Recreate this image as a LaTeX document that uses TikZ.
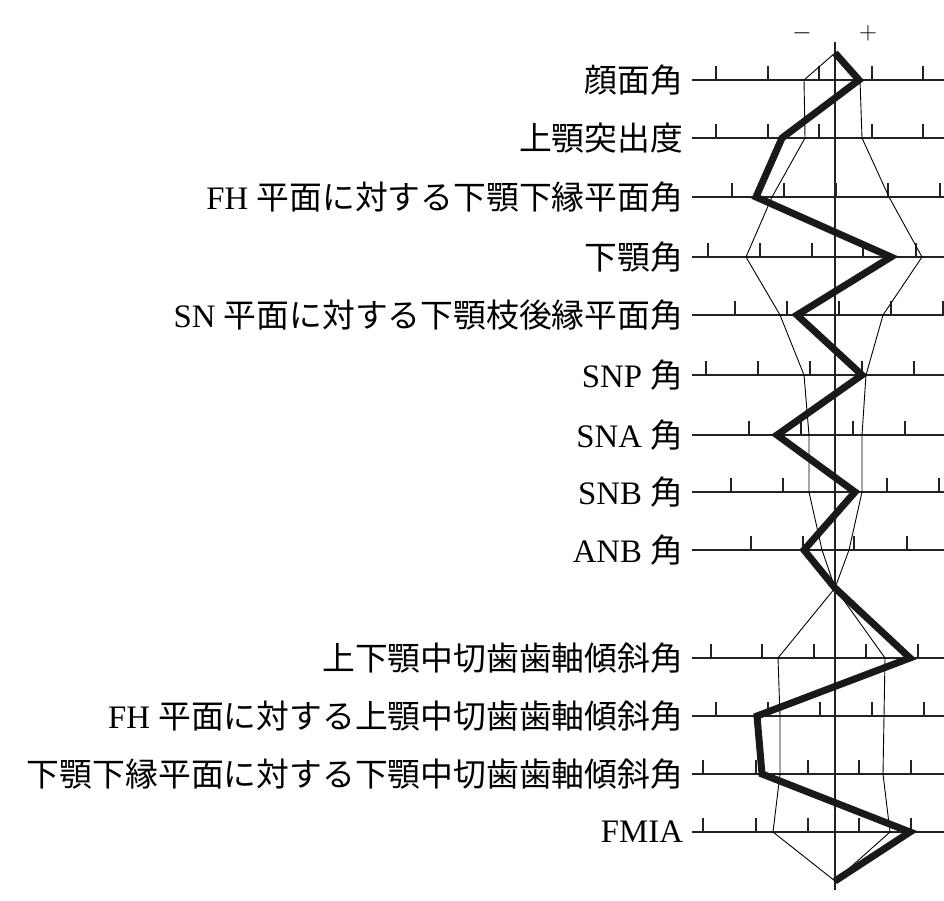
\documentclass[tikz,border=0pt]{standalone}
\usepackage{fontspec}
\setmainfont{Liberation Serif}
\newfontfamily\cjk{Noto Sans CJK JP}
\definecolor{c222222}{RGB}{34,34,34}

\begin{document}
\begin{tikzpicture}[y=1pt,x=1pt,yscale=-1, inner sep=0pt, outer sep=0pt,
  axisline/.style={draw=c222222,line width=2.4pt},
  tickline/.style={draw=c222222,line width=1.3pt},
  thinline/.style={draw=black,line width=0.9pt,line join=miter},
  thickline/.style={draw=black!90,line width=7pt,line join=miter},
  rowlabel/.style={anchor=east,font=\fontsize{32.8}{38}\selectfont}]
\useasboundingbox (0,0) rectangle (944,901);

  % vertical axis and signs
  \coordinate (axistop) at (835,42);
  \coordinate (axisbot) at (835,890);
  \path[axisline] (axistop) -- (axisbot);
  \path (802,33) node (minus) {\fontsize{44}{46}\selectfont $-$};
  \path (868,33) node (plus) {\fontsize{44}{46}\selectfont $+$};

  % rows: y / ticks / thick / left / right
  \foreach \n/\y/\ticks/\pk/\pl/\pr in {
      1/80/{716,768,819,872,923}/859/804/860,
      2/138/{716,768,819,872,923}/782/805/862,
      3/197/{732,784,836,888,940}/756/772/889,
      4/257/{708,760,812,863,916}/891/746/922,
      5/315/{735,787,839,891,943}/797/780/883,
      6/375/{706,758,810,862,914}/862/804/866,
      7/435/{749,801,853,905}/777/809/862,
      8/492/{731,783,887,939}/855/809/862,
      9/550/{751,803,854,907}/804/822/849,
      10/658/{711,762,814,866,918}/910/778/885,
      11/716/{716,768,820,872,924}/757/780/884,
      12/774/{703,756,808,859,911}/762/780/883,
      13/832/{703,756,808,859,911}/910/773/890}{
    \coordinate (l\n) at (692,\y);
    \coordinate (r\n) at (944,\y);
    \path[axisline] (l\n) -- (r\n);
    \foreach \t in \ticks
      \path[tickline] (\t,\y) -- (\t,\y-14);
    \coordinate (k\n) at (\pk,\y);
    \coordinate (a\n) at (\pl,\y);
    \coordinate (b\n) at (\pr,\y);
  }

  \coordinate (top) at (835,53);
  \coordinate (mid) at (835,588);
  \coordinate (bot) at (835,881);

  % norm range
  \path[thinline] (top) -- (a1) -- (a2) -- (a3) -- (a4) -- (a5) -- (a6)
    -- (a7) -- (a8) -- (a9) -- (mid) -- (a10) -- (a11) -- (a12) -- (a13)
    -- (bot);
  \path[thinline] (top) -- (b1) -- (b2) -- (b3) -- (b4) -- (b5) -- (b6)
    -- (b7) -- (b8) -- (b9) -- (mid) -- (b10) -- (b11) -- (b12) -- (b13)
    -- (bot);
  % patient
  \path[thickline] (top) -- (k1) -- (k2) -- (k3) -- (k4) -- (k5) -- (k6)
    -- (k7) -- (k8) -- (k9) -- (mid) -- (k10) -- (k11) -- (k12) -- (k13)
    -- (bot);

  \node[rowlabel] (lab1) at (683,80) {\cjk 顔面角};
  \node[rowlabel] (lab2) at (683,138) {\cjk 上顎突出度};
  \node[rowlabel] (lab3) at (683,197) {FH {\cjk 平面に対する下顎下縁平面角}};
  \node[rowlabel] (lab4) at (683,257) {\cjk 下顎角};
  \node[rowlabel] (lab5) at (683,315) {SN {\cjk 平面に対する下顎枝後縁平面角}};
  \node[rowlabel] (lab6) at (683,375) {SNP {\cjk 角}};
  \node[rowlabel] (lab7) at (683,435) {SNA {\cjk 角}};
  \node[rowlabel] (lab8) at (683,492) {SNB {\cjk 角}};
  \node[rowlabel] (lab9) at (683,550) {ANB {\cjk 角}};
  \node[rowlabel] (lab10) at (683,658) {\cjk 上下顎中切歯歯軸傾斜角};
  \node[rowlabel] (lab11) at (683,716) {FH {\cjk 平面に対する上顎中切歯歯軸傾斜角}};
  \node[rowlabel] (lab12) at (683,774) {\cjk 下顎下縁平面に対する下顎中切歯歯軸傾斜角};
  \node[rowlabel] (lab13) at (683,832) {FMIA};
\end{tikzpicture}
\end{document}
